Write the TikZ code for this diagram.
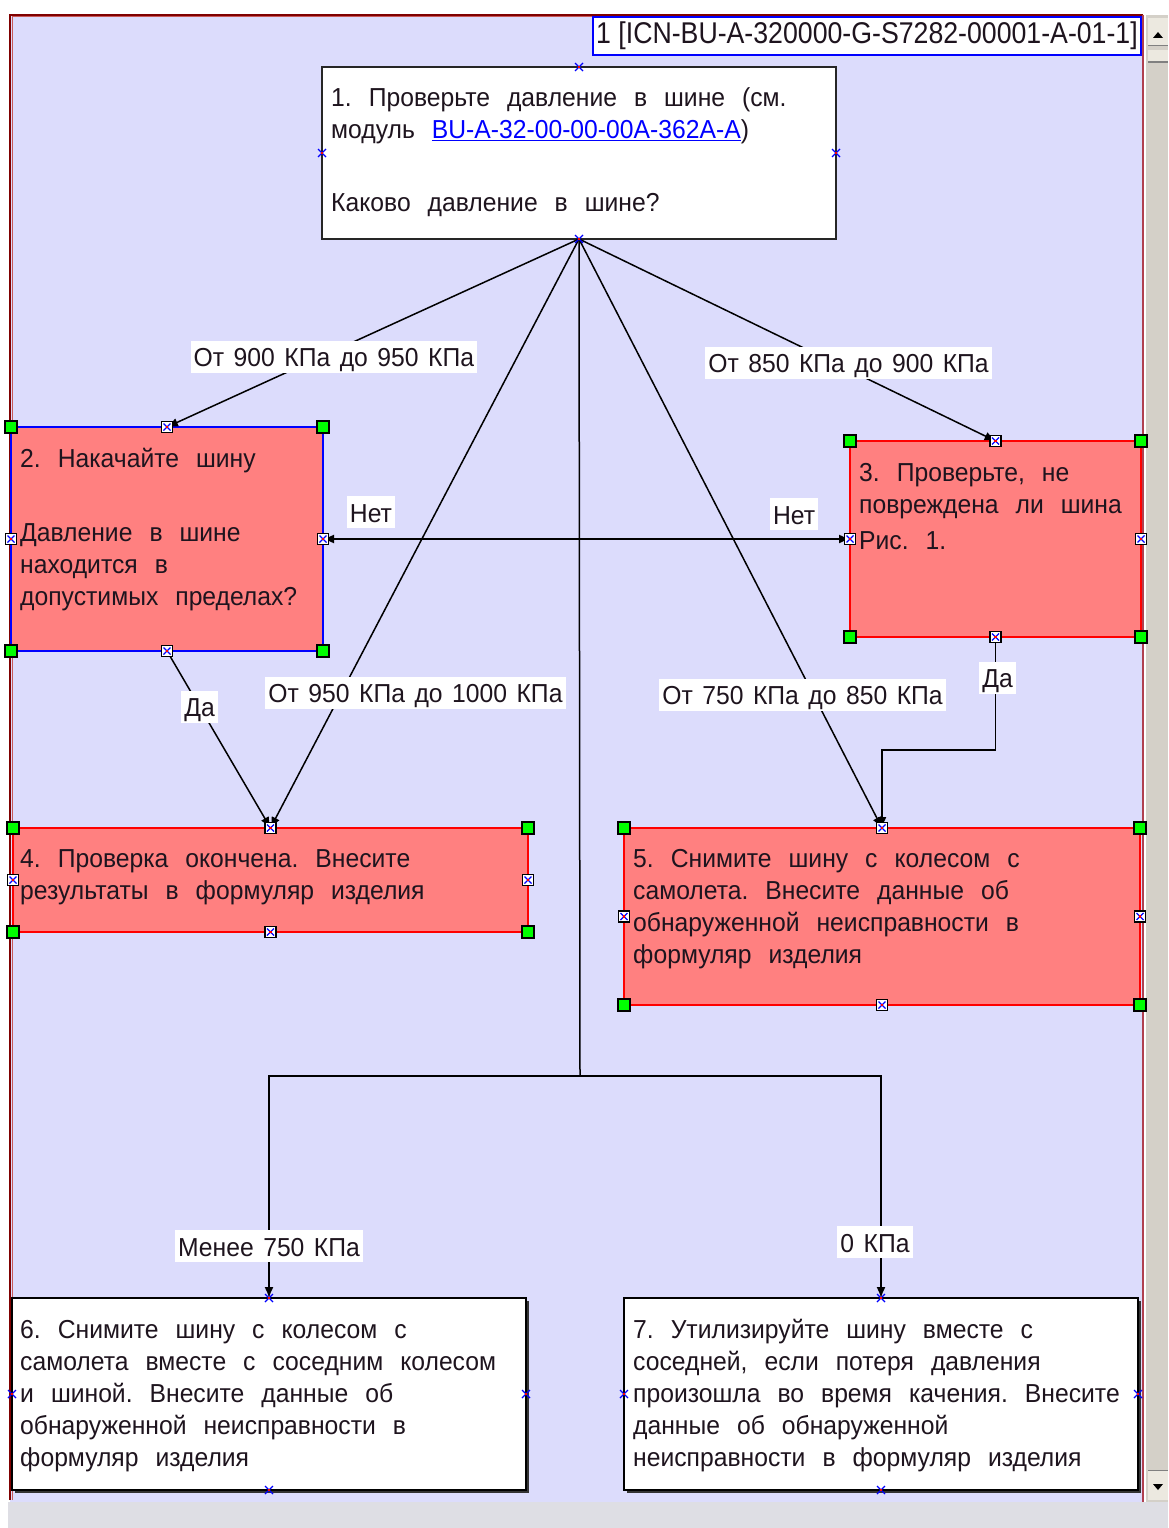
\documentclass[tikz,border=0pt]{standalone}
\usepackage{fontspec}
\setmainfont{Liberation Sans}
\newfontfamily\boxfont[FakeStretch=0.95]{Liberation Sans}
\newfontfamily\ttlfont[FakeStretch=0.89]{Liberation Sans}
\usetikzlibrary{arrows.meta,shadows}

\definecolor{canvasbg}{RGB}{220,220,252}
\definecolor{salmon}{RGB}{255,128,128}
\definecolor{framered}{RGB}{128,0,0}
\definecolor{frameinner}{RGB}{200,90,90}
\definecolor{sideline}{RGB}{176,64,80}
\definecolor{trackgray}{RGB}{212,208,200}
\definecolor{btngray}{RGB}{236,233,224}
\definecolor{stripgray}{RGB}{222,222,228}
\definecolor{txtcol}{RGB}{30,20,30}
\definecolor{linkblue}{RGB}{0,0,255}
\definecolor{handlegreen}{RGB}{0,255,0}

% text settings: box text has wide word gaps, labels narrower ones
\newcommand\boxsty{\boxfont\fontsize{26}{32}\selectfont\spaceskip 17pt plus 2pt minus 1pt\relax}
\newcommand\labsty{\boxfont\fontsize{26}{30}\selectfont\spaceskip 9.5pt\relax}

\tikzset{
  boxbase/.style={draw, inner sep=0, outer sep=0, anchor=north west},
  pinkbox/.style={boxbase, fill=salmon, draw=red, line width=2.5},
  bluebox/.style={boxbase, fill=salmon, draw=blue, line width=2},
  whitebox/.style={boxbase, fill=white, draw=black!85, line width=2},
  shadowbox/.style={boxbase, fill=white, draw=black, line width=2,
    drop shadow={shadow xshift=2.5pt, shadow yshift=-2.5pt, fill=black!80, opacity=1}},
  btxt/.style={anchor=north west, inner sep=0, align=left, font=\boxsty, text=txtcol},
  lab/.style={fill=white, inner xsep=3, inner ysep=0, text height=26, text depth=6,
    font=\labsty, text=txtcol},
  conn/.style={draw=black, line width=1.5},
  arr/.style={conn, -{Latex[length=11pt,width=9pt]}},
  hnd/.pic={
    \draw[black, line width=1.5, fill=white] (-5.5,-5.5) rectangle (5.5,5.5);
    \draw[blue, line width=1.1] (-3.5,-3.5) -- (3.5,3.5) (-3.5,3.5) -- (3.5,-3.5);
    \fill[red] (-1.1,-1.1) rectangle (1.1,1.1);
  },
  crn/.pic={\draw[black, line width=1.5, fill=handlegreen] (-6,-6) rectangle (6,6);},
  xm/.pic={
    \draw[blue, line width=1.3] (-4,-4) -- (4,4) (-4,4) -- (4,-4);
    \fill[red] (-1.3,-1.3) rectangle (1.3,1.3);
  }
}
\newcommand\firstline{\rule{0pt}{20pt}}

\begin{document}
\begin{tikzpicture}[x=1pt,y=-1pt]
\useasboundingbox (0,0) rectangle (1168,1528);
% window background, status strip and scroll bar
\fill[white] (0,0) rectangle (1168,1528);
\fill[stripgray] (8,1502) rectangle (1168,1528);
\fill[canvasbg] (10,15) rectangle (1143,1502);
\fill[trackgray] (1146,15) rectangle (1168,1502);
\fill[btngray] (1148,18) rectangle (1168,46);
\draw[gray, line width=1] (1148,46) -- (1168,46);
\fill[black] (1153,38) -- (1163,38) -- (1158,32) -- cycle;
\fill[btngray] (1148,50) rectangle (1168,62);
\draw[gray, line width=1.5] (1148,62) -- (1168,62);
\fill[btngray] (1148,1470) rectangle (1168,1500);
\draw[gray, line width=1] (1148,1470) -- (1168,1470);
\fill[black] (1153,1484) -- (1163,1484) -- (1158,1490) -- cycle;
% frame of the drawing area
\draw[framered, line width=2] (10,1500) -- (10,15) -- (1143,15);
\draw[frameinner, line width=1] (12,1500) -- (12,17) -- (1142,17);
\draw[sideline, line width=2] (1143,15) -- (1143,1502);

% figure reference
\node[draw=blue, line width=2, fill=white, anchor=north west, minimum width=548,
  minimum height=38, inner sep=0, font=\ttlfont\fontsize{30}{30}\selectfont, text=txtcol]
  (icn) at (592,16) {\raisebox{-3pt}{1 [ICN-BU-A-320000-G-S7282-00001-A-01-1]}};

% step boxes
\node[whitebox, minimum width=514, minimum height=172] (b1) at (322,67) {};
\node[bluebox, minimum width=312, minimum height=224] (b2) at (11,427) {};
\node[pinkbox, minimum width=291, minimum height=196] (b3) at (850,441) {};
\node[pinkbox, minimum width=515, minimum height=104] (b4) at (13,828) {};
\node[pinkbox, minimum width=516, minimum height=177] (b5) at (624,828) {};
\node[shadowbox, minimum width=514, minimum height=192] (b6) at (12,1298) {};
\node[shadowbox, minimum width=514, minimum height=192] (b7) at (624,1298) {};

\node[btxt] (t1) at ([shift={(9,19)}]b1.north west) {\firstline 1.\ Проверьте давление в шине (см.\\
  модуль \textcolor{linkblue}{\underline{BU-A-32-00-00-00A-362A-A}})\\[41pt]
  Каково давление в шине?};
\node[btxt] (t2) at ([shift={(9,20)}]b2.north west) {\firstline 2.\ Накачайте шину\\[42pt]
  Давление в шине\\ находится в\\ допустимых пределах?};
\node[btxt] (t3) at ([shift={(9,20)}]b3.north west) {\firstline 3.\ Проверьте, не\\
  повреждена ли шина\\[4pt] Рис.\ 1.};
\node[btxt] (t4) at ([shift={(7,19)}]b4.north west) {\firstline 4.\ Проверка окончена.\ Внесите\\
  результаты в формуляр изделия};
\node[btxt] (t5) at ([shift={(9,19)}]b5.north west) {\firstline 5.\ Снимите шину с колесом с\\
  самолета.\ Внесите данные об\\ обнаруженной неисправности в\\ формуляр изделия};
\node[btxt] (t6) at ([shift={(8,20)}]b6.north west) {\firstline 6.\ Снимите шину с колесом с\\
  самолета вместе с соседним колесом\\ и шиной.\ Внесите данные об\\
  обнаруженной неисправности в\\ формуляр изделия};
\node[btxt] (t7) at ([shift={(9,20)}]b7.north west) {\firstline 7.\ Утилизируйте шину вместе с\\
  соседней, если потеря давления\\ произошла во время качения.\ Внесите\\
  данные об обнаруженной\\ неисправности в формуляр изделия};

% connectors
\coordinate (split) at (580,1076);
\coordinate (knee) at (882,750);
\draw[arr] (b1.south) -- node[lab, pos=0.595, yshift=-6] {От 900 КПа до 950 КПа} (b2.north);
\draw[arr] (b1.south) -- node[lab, pos=0.647, yshift=7] {От 850 КПа до 900 КПа} (b3.north);
\draw[arr] (b1.south) -- node[lab, pos=0.77, xshift=74] {От 950 КПа до 1000 КПа} (b4.north);
\draw[arr] (b1.south) -- node[lab, pos=0.774, xshift=-11] {От 750 КПа до 850 КПа} (b5.north);
\draw[arr] (b2.south) -- node[lab, pos=0.316] {Да} (b4.north);
\draw[arr] (b3.west) -- node[lab, pos=0.909, yshift=27] {Нет} (b2.east);
\draw[arr] (b2.east) -- node[lab, pos=0.894, yshift=25] {Нет} (b3.west);
\draw[arr] (b3.south) |- node[lab, pos=0.18, xshift=2] {Да} (knee) -- (b5.north);
\draw[conn] (b1.south) -- (split);
\draw[arr] (split) -| node[lab, pos=0.883] {Менее 750 КПа} (b6.north);
\draw[arr] (split) -| node[lab, pos=0.874, xshift=-6] {0 КПа} (b7.north);

% selection handles
\foreach \b in {b1,b6,b7}
  \foreach \a in {north,south,east,west}
    \path (\b.\a) pic {xm};
\foreach \b in {b2,b3,b4,b5} {
  \foreach \a in {north,south,east,west}
    \path (\b.\a) pic {hnd};
  \foreach \a in {north west,north east,south west,south east}
    \path (\b.\a) pic {crn};
}
\end{tikzpicture}
\end{document}
